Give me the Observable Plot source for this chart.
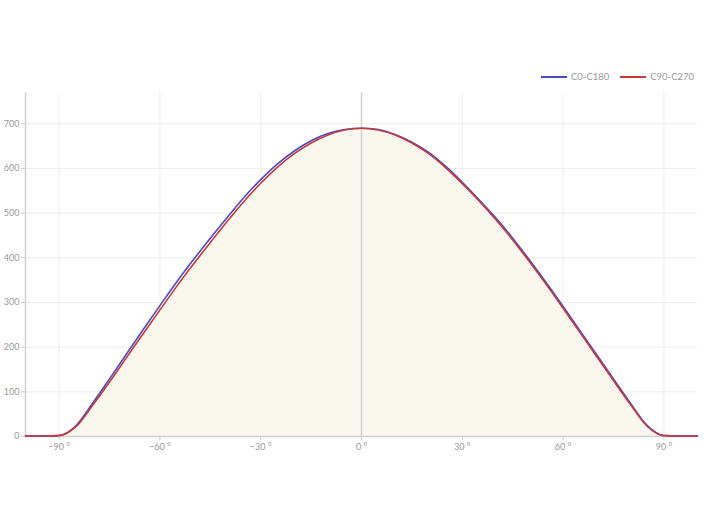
<!DOCTYPE html>
<html><head><meta charset="utf-8">
<script src="https://cdn.jsdelivr.net/npm/d3@7"></script>
<script src="https://cdn.jsdelivr.net/npm/@observablehq/plot@0.6"></script>
<style>
body{margin:0;background:#fff;font-family:Lato,"DejaVu Sans",sans-serif;}
#wrap{position:relative;width:705px;height:530px;}
#legend{position:absolute;top:71px;left:541px;display:flex;align-items:center;font-size:9.5px;color:#999;white-space:nowrap;}
#legend .sw{display:inline-block;width:26px;height:2px;margin-right:4px;}
#legend .it{display:flex;align-items:center;margin-right:11px;}
</style></head>
<body>
<div id="wrap">
<div id="legend">
  <span class="it"><span class="sw" style="background:#4a4ac4"></span>C0-C180</span>
  <span class="it"><span class="sw" style="background:#c43a3a"></span>C90-C270</span>
</div>
<div id="chart"></div>
</div>
<script>
const angles = [-100,-95,-90,-85,-80,-75,-70,-65,-60,-55,-50,-45,-40,-35,-30,-25,-20,-15,-10,-5,0,5,10,15,20,25,30,35,40,45,50,55,60,65,70,75,80,85,90,95,100];
const c0c180 = [1,1,2,24,75,129,184,239,293,346,396,444,490,535,575,610,639,662,678,687,690,687,676,659,636,605,569,530,489,444,395,344,291,237,183,129,75,25,2,1,1];
const c90c270 = [1,1,2,22,70,122,176,230,283,336,386,434,481,526,567,603,633,657,675,686,690,686,675,657,633,602,566,527,485,440,391,340,287,233,179,125,72,23,2,1,1];
const xTicks = [-90,-60,-30,0,30,60,90];
const yTicks = [0,100,200,300,400,500,600,700];

const blue = angles.map((a,i)=>({a, v:c0c180[i]}));
const red = angles.map((a,i)=>({a, v:c90c270[i]}));
const fmt = d => d===0 ? "0 °" : `${d<0?"\u2212":""}${Math.abs(d)} °`;

const chart = Plot.plot({
  width: 705, height: 530,
  marginTop: 92, marginBottom: 94, marginLeft: 25, marginRight: 8,
  style: {fontFamily: "Lato, 'DejaVu Sans', sans-serif", fontSize: "9px", color: "#999", background: "#fff"},
  x: {domain: [-100, 100]},
  y: {domain: [0, 770]},
  marks: [
    Plot.gridY(yTicks.filter(d=>d>0), {stroke: "#eee", strokeOpacity: 1}),
    Plot.gridX(xTicks.filter(d=>d!==0), {stroke: "#eee", strokeOpacity: 1}),
    Plot.areaY(red, {x: "a", y: "v", fill: "#f9f6ee", curve: "monotone-x"}),
    Plot.ruleX([0], {stroke: "#d0d0d0", strokeWidth: 1.5}),
    Plot.ruleX([-100], {stroke: "#d0d0d0", strokeWidth: 1.5}),
    Plot.ruleY([0], {stroke: "#d0d0d0", strokeWidth: 1.5}),
    Plot.lineY(blue, {x: "a", y: "v", stroke: "#4a4ac4", strokeWidth: 1.6, curve: "monotone-x"}),
    Plot.lineY(red, {x: "a", y: "v", stroke: "#c43a3a", strokeWidth: 1.6, curve: "monotone-x"}),
    Plot.axisX({ticks: xTicks, tickFormat: fmt, tickSize: 4, tickPadding: 3, stroke: "#ccc", fill: "#999", label: null}),
    Plot.axisY({ticks: yTicks, tickSize: 4, tickPadding: 2, stroke: "#ccc", fill: "#999", label: null})
  ]
});
document.getElementById("chart").appendChild(chart);
</script>
</body></html>
